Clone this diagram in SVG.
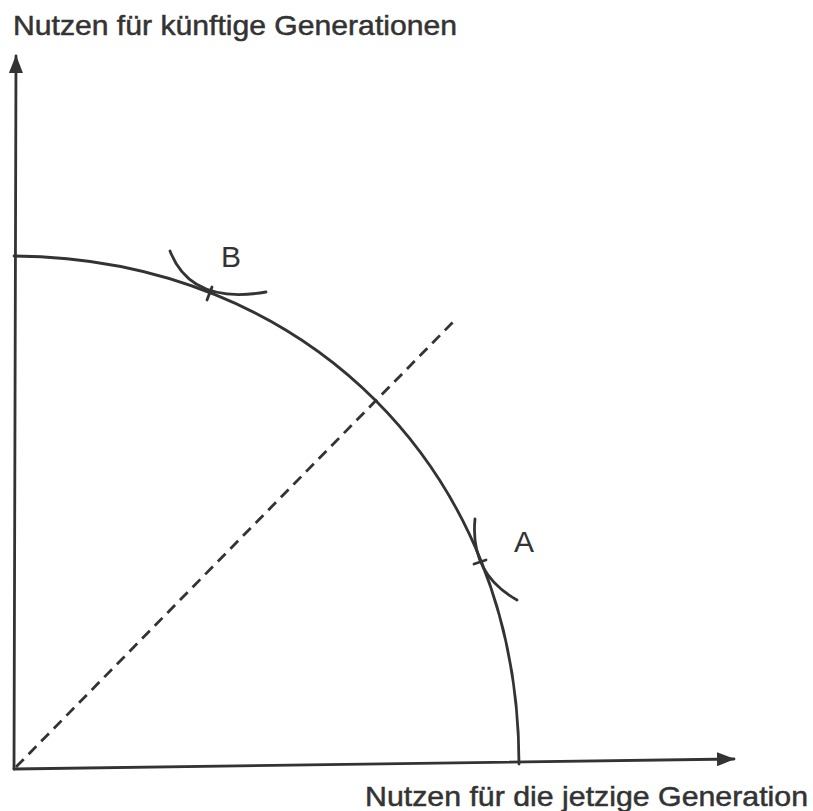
<svg xmlns="http://www.w3.org/2000/svg" width="813" height="811" viewBox="0 0 813 811">
<style>
.ln{fill:none;stroke:#333;stroke-width:2.8;stroke-linecap:round}
.dash{fill:none;stroke:#333;stroke-width:2.8;stroke-dasharray:11 7}
.lbl{font-family:"Liberation Sans","DejaVu Sans",sans-serif;fill:#333}
.ax{font-size:28px;stroke:#333;stroke-width:0.5}
.pt{font-size:30px}
</style>
<defs>
<marker id="ah" viewBox="0 0 18 14" refX="17" refY="7" markerWidth="18" markerHeight="14" markerUnits="userSpaceOnUse" orient="auto">
<path d="M0,0 L18,7 L0,14 Z" fill="#333"/>
</marker>
</defs>
<rect width="813" height="811" fill="#fff"/>
<g id="connectors">
<path id="y-axis" class="ln" d="M14,769 L16,56" marker-end="url(#ah)"/>
<path id="x-axis" class="ln" d="M14,769 L734,759" marker-end="url(#ah)"/>
<path id="diagonal" class="dash" d="M16,767 L457,318"/>
</g>
<g id="frontier">
<path class="ln" d="M14,256 C305,258 519,470 519,764"/>
</g>
<g id="point-B">
<path class="ln" d="M170,251 C185,290 220,300 266,292"/>
<path class="ln" d="M207,300 L212,287"/>
<text class="lbl pt" x="221" y="267">B</text>
</g>
<g id="point-A">
<path class="ln" d="M475,519 C471,560 490,585 517,600"/>
<path class="ln" d="M474,564 L486,560"/>
<text class="lbl pt" x="514" y="552">A</text>
</g>
<g id="label-y">
<text class="lbl ax" x="13" y="35" textLength="444" lengthAdjust="spacingAndGlyphs">Nutzen für künftige Generationen</text>
</g>
<g id="label-x">
<text class="lbl ax" x="365" y="806" textLength="443" lengthAdjust="spacingAndGlyphs">Nutzen für die jetzige Generation</text>
</g>
</svg>
